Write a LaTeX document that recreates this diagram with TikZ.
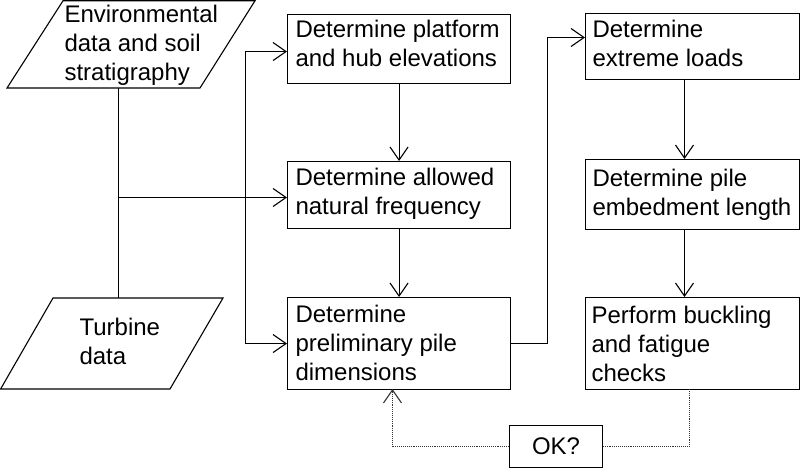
\documentclass[tikz,border=0pt]{standalone}
\usepackage{fontspec}
\setmainfont{Liberation Sans}
\usetikzlibrary{arrows.meta,calc}
\begin{document}
\begin{tikzpicture}[x=1pt,y=-1pt,
  every path/.style={line width=1.1pt},
  boxshape/.style={draw, rectangle, inner sep=0pt, anchor=north west, line width=1.1pt},
  txt/.style={anchor=base west, inner sep=0pt, align=left, font=\fontsize{24}{29}\selectfont},
  ctxt/.style={anchor=center, inner sep=0pt, font=\fontsize{24}{29}\selectfont},
  flow/.style={-{Straight Barb[length=13pt,width=18pt,line width=1.1pt]}},
  loop/.style={line width=1.1pt, dash pattern=on 1.1pt off 1pt, draw=black!80}]
\useasboundingbox (0,0) rectangle (800,468);
% parallelograms
\draw (63,0.8) -- (255,0.8) -- (200,88) -- (7,88) -- cycle;
\draw (53,298) -- (223,298) -- (170,389) -- (0.6,389) -- cycle;
\node[txt] (envt) at (64,81) {Environmental\\data and soil\\stratigraphy};
\node[txt] (turt) at (79,364) {Turbine\\data};
\coordinate (envb) at (118.5,88);
\coordinate (turt0) at (118.5,298);
\coordinate (j1) at (118.5,197.5);
\coordinate (j2) at (245.5,197.5);
% boxes
\node[boxshape, minimum width=223pt, minimum height=69pt] (A) at (287,14) {};
\node[boxshape, minimum width=223pt, minimum height=67pt] (B) at (287,161) {};
\node[boxshape, minimum width=223pt, minimum height=92pt] (C) at (287,297) {};
\node[boxshape, minimum width=214pt, minimum height=66pt] (D) at (585,13) {};
\node[boxshape, minimum width=214pt, minimum height=70pt] (E) at (585,159) {};
\node[boxshape, minimum width=214pt, minimum height=92pt] (F) at (585,297) {};
\node[boxshape, minimum width=93pt, minimum height=42pt] (OK) at (509,425) {};
\node[txt] (At) at (295,67) {Determine platform\\and hub elevations};
\node[txt] (Bt) at (295,214) {Determine allowed\\natural frequency};
\node[txt] (Ct) at (295,380) {Determine\\preliminary pile\\dimensions};
\node[txt] (Dt) at (592,67) {Determine\\extreme loads};
\node[txt] (Et) at (592,215) {Determine pile\\embedment length};
\node[txt] (Ft) at (591,381) {Perform buckling\\and fatigue\\checks};
\node[ctxt] (OKt) at (OK.center) {OK?};
% connectors
\draw (envb) -- (turt0);
\draw[flow] (j1) -- (j1 -| B.west);
\draw[flow] (j2) |- ($(A.west)+(0,2.5)$);
\draw[flow] (j2) |- (C.west);
\draw[flow] (A.south) -- (B.north);
\draw[flow] (B.south) -- (C.north);
\draw[flow] (C.east) -| (547.5,37.5) -- (D.west |- 0,37.5);
\draw[flow] (684.5,79) -- (E.north -| 684.5,0);
\draw[flow] (684.5,229) -- (F.north -| 684.5,0);
\draw[loop] (689.5,389) |- (OK.east);
\draw[loop,flow] (OK.west) -| (392.5,389);
\end{tikzpicture}
\end{document}
